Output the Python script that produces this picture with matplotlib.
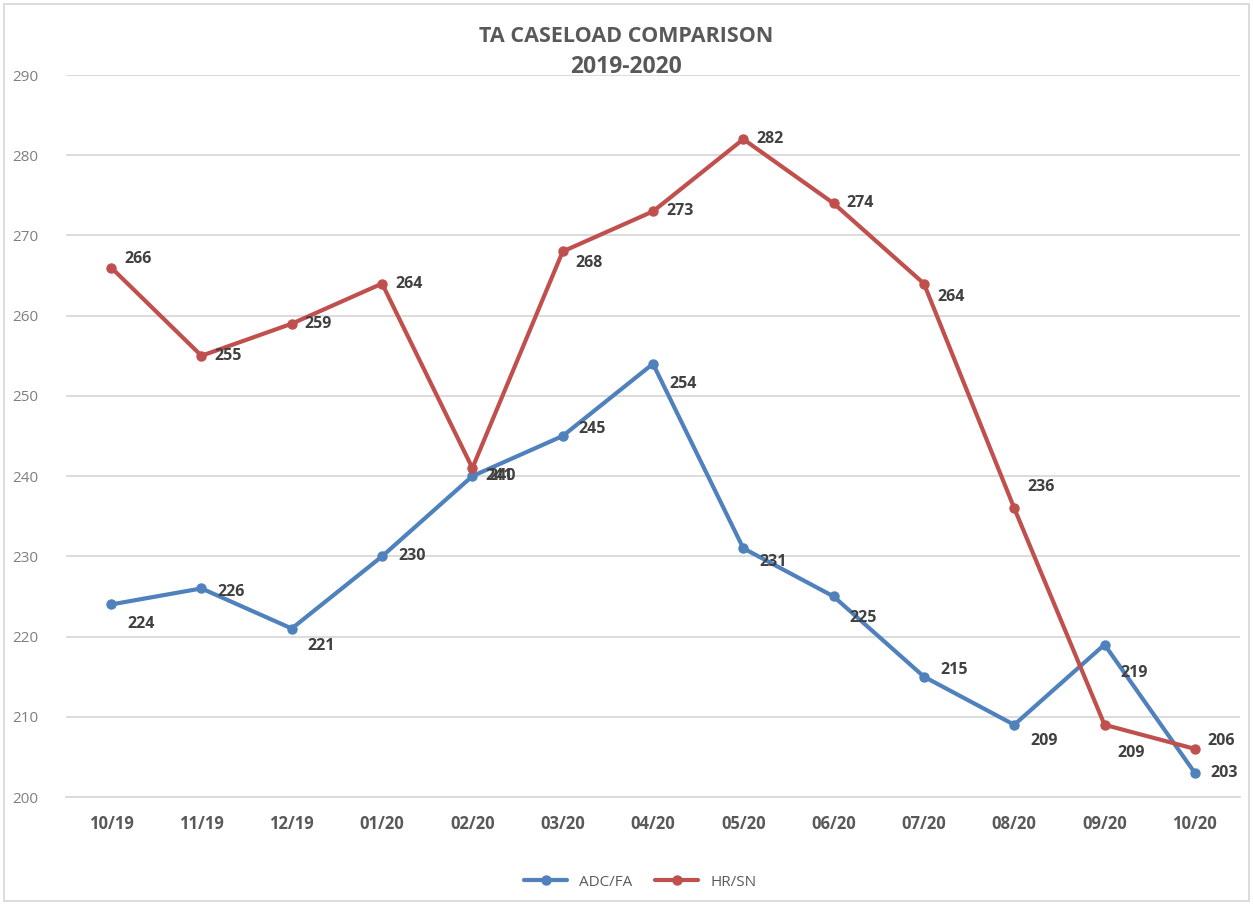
import matplotlib
matplotlib.use("Agg")
import matplotlib.pyplot as plt
from matplotlib.patches import Rectangle

months = ["10/19", "11/19", "12/19", "01/20", "02/20", "03/20", "04/20",
          "05/20", "06/20", "07/20", "08/20", "09/20", "10/20"]
adc_fa = [224, 226, 221, 230, 240, 245, 254, 231, 225, 215, 209, 219, 203]
hr_sn = [266, 255, 259, 264, 241, 268, 273, 282, 274, 264, 236, 209, 206]

# vertical label offsets in pixels (positive = up)
adc_dy = [-20, -4, -17, 0, 0, 7, -20, -14, -22, 7, -16, -28, 0]
hr_dy = [9, 0, 0, 0, -8, -12, 0, 0, 0, -13, 21, -28, 8]

BLUE = "#4F81BD"
RED = "#C0504D"
GRAY = "#595959"

plt.rcParams['font.family'] = ['Open Sans', 'DejaVu Sans']

fig = plt.figure(figsize=(12.53, 9.05), dpi=100)
ax = fig.add_axes([66/1253, 1-797/905, (1240-66)/1253, (797-75)/905])

x = list(range(len(months)))
ax.plot(x, adc_fa, color=BLUE, lw=3, marker="o", ms=6.5, label="ADC/FA",
        solid_capstyle="round", zorder=3)
ax.plot(x, hr_sn, color=RED, lw=3, marker="o", ms=6.5, label="HR/SN",
        solid_capstyle="round", zorder=3)

for xi, v, dy in zip(x, adc_fa, adc_dy):
    ax.annotate(str(v), (xi, v), xytext=(16, dy), textcoords="offset pixels",
                ha="left", va="center", fontsize=11.5, fontweight="bold",
                color="#404040", zorder=4)
for xi, v, dy in zip(x, hr_sn, hr_dy):
    ax.annotate(str(v), (xi, v), xytext=(13, dy), textcoords="offset pixels",
                ha="left", va="center", fontsize=11.5, fontweight="bold",
                color="#404040", zorder=4)

ax.set_xlim(-0.5, len(months) - 0.5)
ax.set_ylim(200, 290)
ax.set_yticks(range(200, 291, 10))
ax.set_xticks(x)
ax.set_xticklabels(months, fontweight="bold", color=GRAY, fontsize=12)
ax.tick_params(axis="y", labelsize=11, length=0, pad=20)
ax.tick_params(axis="x", length=0, pad=13)
for lbl in ax.get_yticklabels():
    lbl.set_color("#7F7F7F")
ax.grid(axis="y", color="#D9D9D9", lw=1.3)
ax.set_axisbelow(True)
for s in ["top", "right", "left"]:
    ax.spines[s].set_visible(False)
ax.spines["bottom"].set_color("#D9D9D9")
ax.spines["bottom"].set_linewidth(1.3)

fig.text(0.5, 1-36/905, "TA CASELOAD COMPARISON", ha="center", va="center",
         fontsize=15.5, fontweight="bold", color=GRAY)
fig.text(0.5, 1-67/905, "2019-2020", ha="center", va="center",
         fontsize=16.5, fontweight="bold", color=GRAY)

leg = fig.legend(loc="center", bbox_to_anchor=(0.511, 1-882/905), ncol=2,
                 frameon=False, fontsize=11, handlelength=2.8, columnspacing=1.5)
for t in leg.get_texts():
    t.set_color(GRAY)

fig.patches.append(Rectangle((4/1253, 4/905), 1245/1253, 897/905,
                             transform=fig.transFigure, fill=False,
                             edgecolor="#D9D9D9", lw=1.3))

fig.savefig("out.png", dpi=100, facecolor="white")
